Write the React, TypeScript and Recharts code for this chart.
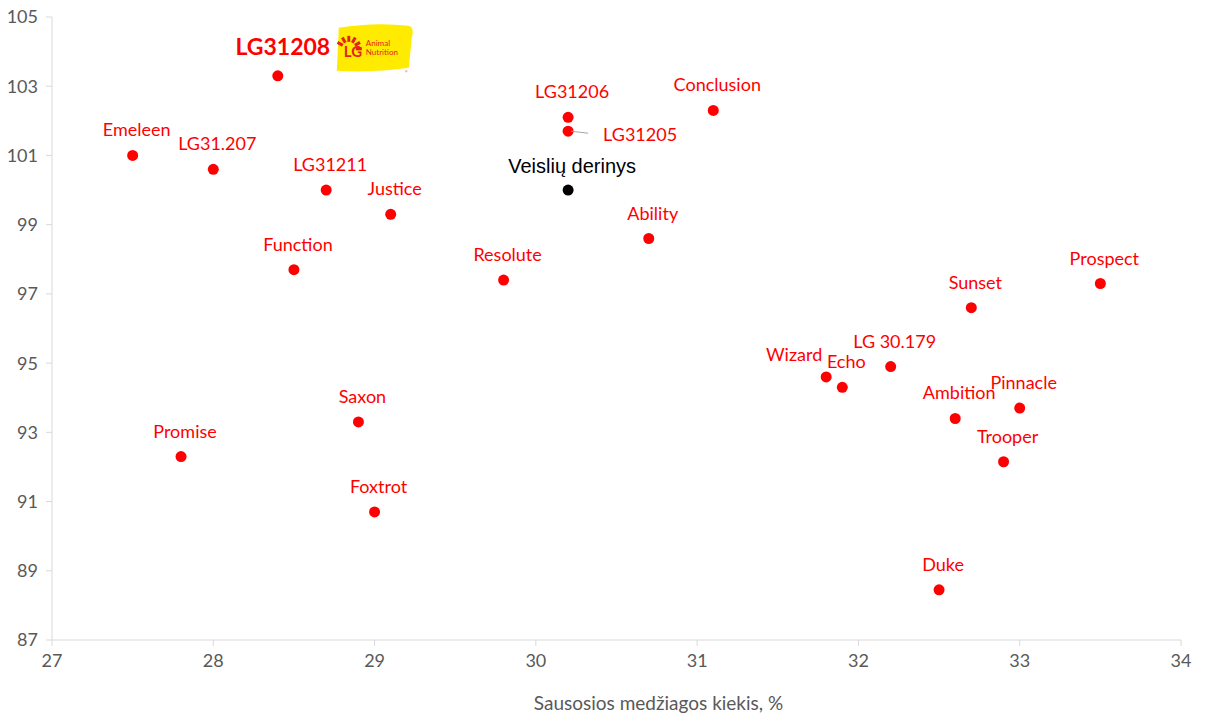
import React from 'react';
import { ScatterChart, Scatter, XAxis, YAxis, Cell } from 'recharts';

const varieties = [
  'LG31208', 'Emeleen', 'LG31.207', 'LG31211', 'Justice', 'Function', 'Resolute',
  'LG31206', 'LG31205', 'Veislių derinys', 'Conclusion', 'Ability', 'Prospect', 'Sunset',
  'LG 30.179', 'Wizard', 'Echo', 'Ambition', 'Pinnacle', 'Trooper', 'Duke',
  'Saxon', 'Foxtrot', 'Promise',
];
const dryMatter = [
  28.4, 27.5, 28.0, 28.7, 29.1, 28.5, 29.8,
  30.2, 30.2, 30.2, 31.1, 30.7, 33.5, 32.7,
  32.2, 31.8, 31.9, 32.6, 33.0, 32.9, 32.5,
  28.9, 29.0, 27.8,
];
const relYield = [
  103.3, 101.0, 100.6, 100.0, 99.3, 97.7, 97.4,
  102.1, 101.7, 100.0, 102.3, 98.6, 97.3, 96.6,
  94.9, 94.6, 94.3, 93.4, 93.7, 92.15, 88.45,
  93.3, 90.7, 92.3,
];
const xTicks = [27, 28, 29, 30, 31, 32, 33, 34];
const yTicks = [87, 89, 91, 93, 95, 97, 99, 101, 103, 105];

const data = varieties.map((name, i) => ({ name, x: dryMatter[i], y: relYield[i] }));

const FONT = 'Lato, "Open Sans", sans-serif';
const RED = '#ff0000';

// label placement tweaks, everything else sits centred above its point
const labelOffset: Record<string, { dx: number; dy: number }> = {
  Wizard: { dx: -32, dy: -23 },
  LG31208: { dx: 5, dy: -30 },
};

function Logo({ x, y }: { x: number; y: number }) {
  return (
    <g transform={`translate(${x},${y})`}>
      <path d="M4 4 Q40 -2 74 2 Q80 3 77 14 L74 44 Q40 49 2 47 Z" fill="#ffeb00" />
      {[0, 1, 2, 3, 4, 5].map((k) => {
        const a = (-150 + k * 30) * (Math.PI / 180);
        return (
          <line
            key={k}
            x1={14 + Math.cos(a) * 7}
            y1={25 + Math.sin(a) * 7}
            x2={14 + Math.cos(a) * 13}
            y2={25 + Math.sin(a) * 13}
            stroke="#e5231b"
            strokeWidth={3}
          />
        );
      })}
      <text x={9} y={33} fontSize={15} fontWeight={700} fill="#e5231b" fontFamily={FONT}>LG</text>
      <text x={31} y={22} fontSize={8} fill="#e5231b" fontFamily={FONT}>Animal</text>
      <text x={31} y={31} fontSize={8} fill="#e5231b" fontFamily={FONT}>Nutrition</text>
      <text x={70} y={49} fontSize={4} fill="#e5231b">®</text>
    </g>
  );
}

function Point(props: any) {
  const { cx, cy, payload } = props;
  const name: string = payload.name;
  const isBlend = name === 'Veislių derinys';
  const fill = isBlend ? '#000000' : RED;
  const off = labelOffset[name] || { dx: 4, dy: -26 };

  let label: React.ReactNode;
  if (name === 'LG31205') {
    label = (
      <g>
        <line x1={cx + 3} y1={cy} x2={cx + 20} y2={cy + 2} stroke="#a6a6a6" strokeWidth={1} />
        <text x={cx + 35} y={cy + 3} fontSize={18} fill={RED} fontFamily={FONT} dominantBaseline="central">
          {name}
        </text>
      </g>
    );
  } else if (name === 'LG31208') {
    label = (
      <g>
        <text
          x={cx + off.dx}
          y={cy + off.dy}
          fontSize={23}
          fontWeight={700}
          fill={RED}
          fontFamily={FONT}
          textAnchor="middle"
          dominantBaseline="central"
        >
          {name}
        </text>
        <Logo x={cx + 57} y={cy - 52} />
      </g>
    );
  } else {
    label = (
      <text
        x={cx + off.dx}
        y={cy + (isBlend ? -24 : off.dy)}
        fontSize={isBlend ? 20 : 18}
        fill={isBlend ? '#000000' : RED}
        fontFamily={isBlend ? 'Arial, "Liberation Sans", sans-serif' : FONT}
        textAnchor="middle"
        dominantBaseline="central"
      >
        {name}
      </text>
    );
  }

  return (
    <g>
      <circle cx={cx} cy={cy} r={5.5} fill={fill} />
      {label}
    </g>
  );
}

export default function App() {
  return (
    <div style={{ position: 'absolute', left: 0, top: 0, background: '#fff' }}>
      <ScatterChart width={1206} height={713} margin={{ top: 17, right: 25, bottom: 43, left: 0 }}>
        <XAxis
          type="number"
          dataKey="x"
          domain={[27, 34]}
          ticks={xTicks}
          stroke="#d9d9d9"
          tickSize={6}
          tick={{ fill: '#595959', fontSize: 18, fontFamily: FONT, dy: 6 }}
          height={30}
          label={{
            content: ({ viewBox }: any) => (
              <text
                x={viewBox.x + viewBox.width / 2 + 42}
                y={viewBox.y + 70}
                fontSize={19}
                fill="#595959"
                fontFamily={FONT}
                textAnchor="middle"
              >
                Sausosios medžiagos kiekis, %
              </text>
            ),
          }}
        />
        <YAxis
          type="number"
          dataKey="y"
          domain={[87, 105]}
          ticks={yTicks}
          stroke="#d9d9d9"
          tickSize={6}
          width={52}
          tick={{ fill: '#595959', fontSize: 18, fontFamily: FONT, dx: -6 }}
        />
        <Scatter data={data} shape={<Point />} isAnimationActive={false}>
          {data.map((d) => (
            <Cell key={d.name} fill={d.name === 'Veislių derinys' ? '#000' : RED} />
          ))}
        </Scatter>
      </ScatterChart>
    </div>
  );
}
